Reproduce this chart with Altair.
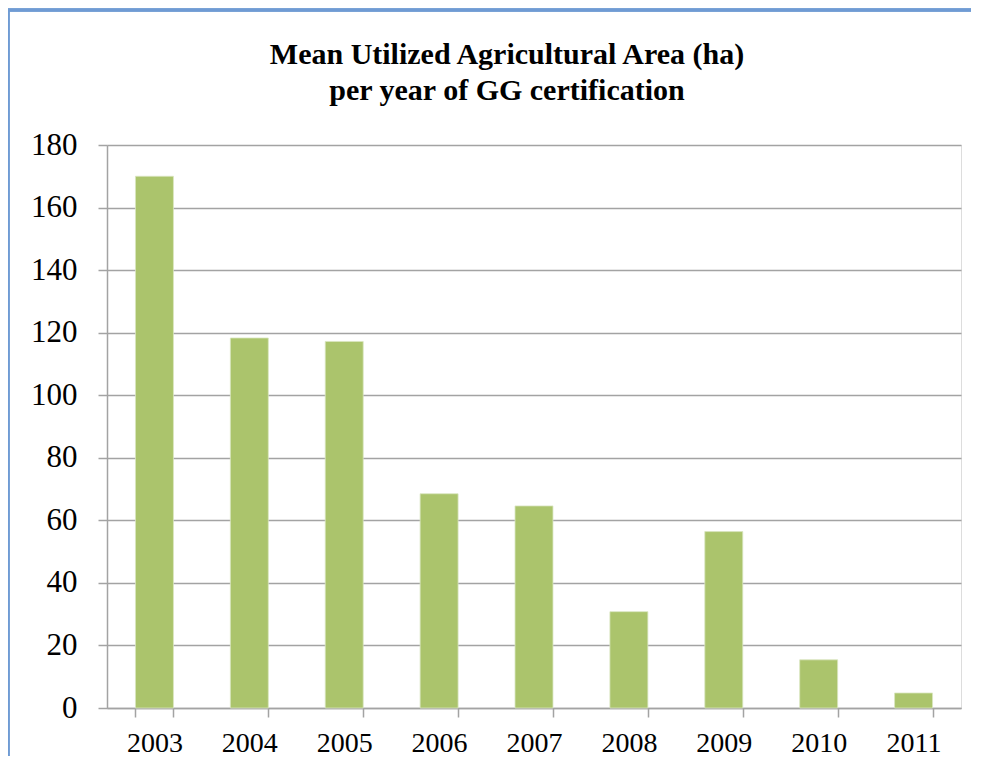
import altair as alt
import pandas as pd

years = ["2003", "2004", "2005", "2006", "2007", "2008", "2009", "2010", "2011"]
mean_uaa = [170.0, 118.3, 117.2, 68.5, 64.6, 30.8, 56.4, 15.4, 4.8]
y_ticks = [0, 20, 40, 60, 80, 100, 120, 140, 160, 180]
title_lines = ["Mean Utilized Agricultural Area (ha)", "per year of GG certification"]

df = pd.DataFrame({"year": years, "uaa": mean_uaa})

GRID = "#a3a3a3"
FONT = "Liberation Serif"

bars = alt.Chart(df).mark_bar(color="#abc46c", stroke="#d9e6c0", strokeWidth=0.8).encode(
    x=alt.X(
        "year:N",
        sort=years,
        title=None,
        scale=alt.Scale(paddingInner=0.6, paddingOuter=0.3),
        axis=alt.Axis(
            labelAngle=0,
            labelFont=FONT,
            labelFontSize=28,
            labelColor="#000000",
            labelPadding=12,
            tickBand="extent",
            tickSize=9,
            tickColor=GRID,
            tickWidth=1.5,
            domainColor=GRID,
            domainWidth=1.5,
            grid=False,
        ),
    ),
    y=alt.Y(
        "uaa:Q",
        title=None,
        scale=alt.Scale(domain=[0, 180], nice=False),
        axis=alt.Axis(
            values=y_ticks,
            labelFont=FONT,
            labelFontSize=31,
            labelColor="#000000",
            labelPadding=21,
            tickSize=9,
            tickColor=GRID,
            tickWidth=1.5,
            domainColor=GRID,
            domainWidth=1.5,
            gridColor=GRID,
            gridWidth=1.5,
        ),
    ),
)

frame_top = alt.Chart(df).mark_rule(color="#6f9bd4", strokeWidth=2.5, clip=False).encode(
    x=alt.value(-99), x2=alt.value(864), y=alt.value(-135)
)
frame_left = alt.Chart(df).mark_rule(color="#6f9bd4", strokeWidth=2.5, clip=False).encode(
    x=alt.value(-99), y=alt.value(-135), y2=alt.value(611)
)

chart = alt.layer(frame_top, frame_left, bars).properties(
    width=854,
    height=563,
    autosize=alt.AutoSizeParams(type="none"),
    padding={"left": 99, "top": 137, "right": 10, "bottom": 48},
    title=alt.TitleParams(
        text=title_lines,
        font=FONT,
        fontSize=30,
        fontWeight="bold",
        lineHeight=36,
        color="#000000",
        anchor="middle",
        dx=-27,
        offset=-97,
    ),
).configure_view(stroke=None).configure(background="#ffffff")

chart.save("out.html", embed_options={"renderer": "svg", "actions": False})
